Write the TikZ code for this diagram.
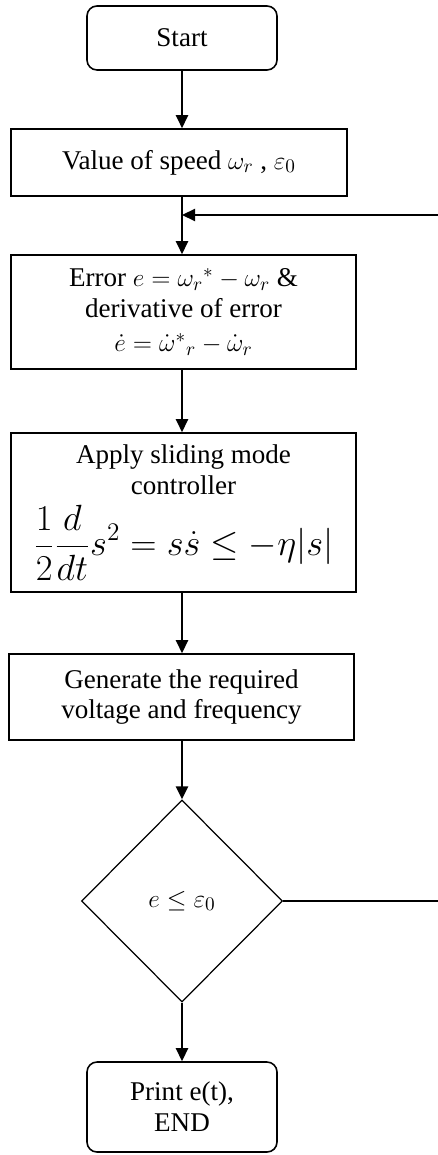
\documentclass[tikz,border=0pt]{standalone}
\usepackage{fontspec}
\setmainfont{Liberation Serif}
\usetikzlibrary{shapes.geometric,arrows.meta}

\begin{document}
\begin{tikzpicture}[
        >={Triangle[width=0.24cm,length=0.26cm]},
        every node/.style={font=\fontsize{15.4}{17.6}\selectfont, align=center},
        caja/.style={draw, line width=0.9pt, inner sep=0pt},
        terminal/.style={caja, rounded corners=0.2cm, minimum width=3.8cm},
        decision/.style={draw, diamond, line width=0.7pt, inner sep=0pt, minimum width=4.02cm, minimum height=4.04cm},
        flecha/.style={->, line width=1.4pt}
    ]
        % Marco
        \useasboundingbox (0,0) rectangle (8.76,-23.1);

        % Bloques
        \node[terminal, minimum height=1.28cm] (start) at (3.64,-0.76) {Start};
        \node[caja, minimum width=6.72cm, minimum height=1.34cm] (value) at (3.58,-3.25) {Value of speed $\omega_r$ , $\varepsilon_0$};
        \node[caja, minimum width=6.9cm, minimum height=2.28cm] (error) at (3.67,-6.24) {Error $e = {\omega_r}^{*} - \omega_r$ \&\\ derivative of error\\[2pt] $\dot{e} = \dot{\omega}^{*}{}_{r} - \dot{\omega}_r$};
        \node[caja, minimum width=6.9cm, minimum height=3.18cm] (smc) at (3.67,-10.25) {Apply sliding mode\\ controller\\[5pt] {\fontsize{20.5}{24}\selectfont $\displaystyle\frac{1}{2}\frac{d}{dt}s^2 = s\dot{s} \le -\eta|s|$}};
        \node[caja, minimum width=6.9cm, minimum height=1.72cm] (gen) at (3.63,-13.94) {Generate the required\\ voltage and frequency};
        \node[decision] (dec) at (3.64,-18.02) {$e \le \varepsilon_0$};
        \node[terminal, minimum height=1.8cm] (print) at (3.64,-22.14) {Print e(t),\\ END};

        % Flechas
        \draw[flecha] (start) -- (start |- value.north);
        \draw[flecha] (value.south -| start) -- (error.north -| start);
        \draw[flecha] (error.south -| start) -- (smc.north -| start);
        \draw[flecha] (smc.south -| start) -- (gen.north -| start);
        \draw[flecha] (gen.south -| start) -- (dec.north);
        \draw[flecha] (dec.south) -- (print.north);

        % Retorno
        \coordinate (fbin) at (8.76,-4.30);
        \draw[->, line width=1.2pt] (fbin) -- (fbin -| start);
        \draw[line width=0.8pt] (dec.east) -- (dec.east -| fbin);
    \end{tikzpicture}
\end{document}
